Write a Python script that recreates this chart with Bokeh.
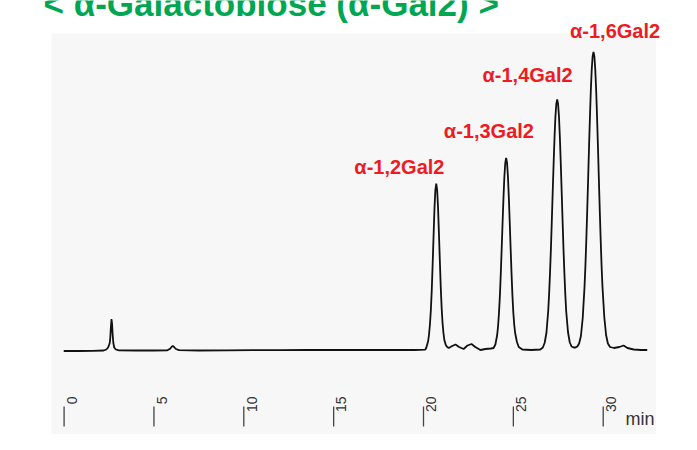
from math import pi
from bokeh.plotting import figure
from bokeh.models import ColumnDataSource, BoxAnnotation, Range1d
from bokeh.core.properties import value
from bokeh.embed import file_html
from bokeh.resources import INLINE

# ---------------- data ----------------
time_min = [
    -0.02, 0.8, 1.6, 2.2, 2.35, 2.45, 2.50, 2.54, 2.57, 2.60, 2.64, 2.67, 2.70, 2.74, 2.79, 2.88, 3.05,
    4.0, 5.0, 5.75, 5.9, 6.0, 6.05, 6.12, 6.22, 6.4, 7.5, 9.0, 10.5, 12.0, 13.5, 15.0, 16.5, 18.0, 19.5, 20.1,
    20.16, 20.26, 20.31, 20.36, 20.41, 20.46, 20.51, 20.56, 20.61, 20.66, 20.71, 20.76, 20.81, 20.86,
    20.91, 20.96, 21.01, 21.06, 21.11, 21.16, 21.24, 21.32,
    21.4, 21.6, 21.78, 21.98, 22.23, 22.45, 22.67, 22.88, 23.17, 23.45, 23.75,
    23.90, 24.00, 24.10, 24.15, 24.20, 24.25, 24.30, 24.35, 24.40, 24.45, 24.50, 24.55, 24.60, 24.65,
    24.70, 24.75, 24.80, 24.85, 24.90, 24.95, 25.00, 25.05, 25.10, 25.20, 25.30, 25.5, 26.0, 26.5,
    26.64, 26.74, 26.84, 26.94, 26.99, 27.04, 27.09, 27.14, 27.19, 27.24, 27.29, 27.34, 27.39, 27.44,
    27.49, 27.54, 27.59, 27.64, 27.69, 27.74, 27.79, 27.84, 27.89, 27.94, 28.04, 28.14, 28.24, 28.36, 28.46,
    28.56, 28.66, 28.76, 28.86, 28.96, 29.01, 29.06, 29.11, 29.16, 29.21, 29.26, 29.31, 29.36, 29.41,
    29.46, 29.51, 29.56, 29.61, 29.66, 29.71, 29.76, 29.81, 29.86, 29.91, 29.96, 30.06, 30.16, 30.26,
    30.38, 30.6, 30.9, 31.13, 31.35, 31.7, 32.1, 32.45,
]
signal = [
    -1.0, -1.0, -0.8, -0.5, 0.5, 2.5, 5, 7, 12, 22, 31, 26, 16, 7, 2.5, 0.5, -0.3,
    -0.5, -0.5, -0.3, 1.2, 3.5, 4.0, 3.0, 1.0, -0.2, -0.5, -0.3, -0.2, -0.2, 0, 0, 0, 0, 0, 0.3,
    2.5, 9, 16, 26, 40, 60, 86, 114, 141, 160, 166.5, 160, 142, 116,
    89, 63, 42, 27, 17, 10, 5, 3,
    2, 4, 5.5, 3, 1, 4.5, 6, 3, 0, 1, 1.5,
    2, 5.5, 15, 24, 37, 54, 76, 101, 127, 152, 173, 187, 192, 187,
    173, 152, 127, 101, 76, 54, 37, 25, 17, 8, 3, 0.5, 0, 0.5,
    2.5, 7, 17, 39, 56, 77, 101, 129, 158, 186, 212, 233, 246, 250.5,
    246, 233, 212, 186, 158, 129, 101, 77, 56, 39, 18, 7.5, 3.5, 2.5, 2.5,
    3.5, 6.5, 14, 32, 63, 84, 110, 139, 170, 202, 232, 259, 280, 293.5,
    298, 293.5, 280, 259, 232, 202, 170, 139, 110, 84, 63, 33, 15, 6.5,
    3, 2, 3, 4.5, 2, 0.5, 0, 0,
]

tick_values = [0, 5, 10, 15, 20, 25, 30]
tick_labels = ["0", "5", "10", "15", "20", "25", "30"]
axis_unit = "min"

peak_names = ["α-1,2Gal2", "α-1,3Gal2", "α-1,4Gal2", "α-1,6Gal2"]
peak_times = [20.71, 24.60, 27.44, 29.46]
peak_heights = [166.5, 192, 250.5, 298]

title_text = "< α-Galactobiose (α-Gal2) >"

# ---------------- layout / style ----------------
label_dx = [-2.05, -0.96, -1.65, 1.20]
label_dy = [16.9, 26.7, 24.2, 20.7]

FONT = value("Liberation Sans")

p = figure(width=681, height=434,
           x_range=Range1d(-3.539, 34.357), y_range=Range1d(-84.5, 349.5),
           output_backend="svg", toolbar_location=None,
           x_axis_type=None, y_axis_type=None,
           min_border=0, min_border_left=0, min_border_right=0,
           min_border_top=0, min_border_bottom=0)
p.outline_line_color = None
p.background_fill_color = "white"
p.border_fill_color = "white"
p.xgrid.visible = False
p.ygrid.visible = False

# plot panel background
p.add_layout(BoxAnnotation(left=-0.701, right=32.94, bottom=-85.5, top=316.5,
                           fill_color="#f7f7f7", fill_alpha=1.0,
                           line_color=None, level="underlay"))

# chromatogram trace
trace = ColumnDataSource(dict(t=time_min, s=signal))
p.line("t", "s", source=trace, line_color="#111111", line_width=1.8)

# axis ticks drawn as in the scanned chart
tick_src = ColumnDataSource(dict(
    x=tick_values,
    y0=[-56.5] * len(tick_values),
    y1=[-76.5] * len(tick_values),
    lx=[v + 0.43 for v in tick_values],
    ly=[-46.5] * len(tick_values),
    lab=tick_labels,
))
p.segment(x0="x", y0="y0", x1="x", y1="y1", source=tick_src,
          line_color="#444444", line_width=1.3)
p.text(x="lx", y="ly", text="lab", source=tick_src, angle=pi / 2,
       text_align="right", text_baseline="alphabetic",
       text_font=FONT, text_font_size="14px", text_color="#333333")
p.text(x=[31.24], y=[-69.0], text=[axis_unit],
       text_align="left", text_baseline="alphabetic",
       text_font=FONT, text_font_size="18px", text_color="#333333")

# peak labels
lab_src = ColumnDataSource(dict(
    x=[t + d for t, d in zip(peak_times, label_dx)],
    y=[h + d for h, d in zip(peak_heights, label_dy)],
    name=peak_names,
))
p.text(x="x", y="y", text="name", source=lab_src,
       text_align="center", text_baseline="alphabetic",
       text_font=FONT, text_font_style="bold", text_font_size="20px",
       text_color="#ed1c24")

# title (green, partly cut at the top as in the reference)
p.text(x=[-1.146], y=[346.5], text=[title_text],
       text_align="left", text_baseline="alphabetic",
       text_font=FONT, text_font_style="bold", text_font_size="35px",
       text_color="#00a651")

open("out.html", "w").write(file_html(p, INLINE))
